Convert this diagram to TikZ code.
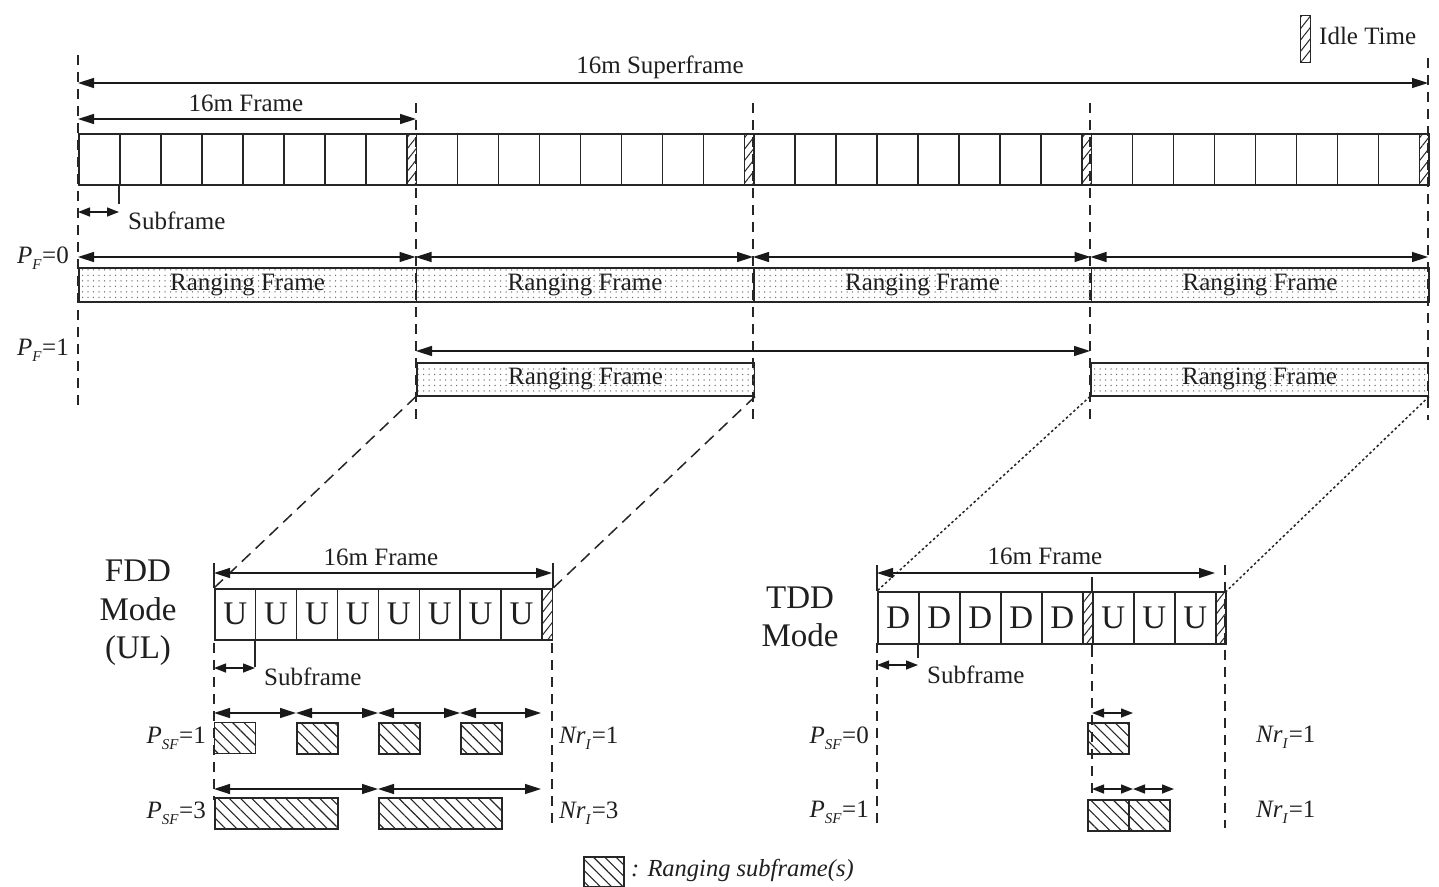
\documentclass[tikz,border=0pt]{standalone}
\usepackage{fontspec}
\setmainfont{Liberation Serif}
\usetikzlibrary{patterns.meta,arrows.meta}
\newcommand\psub[3]{\textit{#1}\raisebox{-0.5ex}{\fontsize{15}{15}\selectfont\textit{#2}}\kern0.5pt=#3}
\tikzset{
  ln/.style={draw=black!85, line width=1.5pt},
  dsh/.style={draw=black!85, line width=1.5pt, dash pattern=on 10pt off 7pt},
  ldash/.style={draw=black!85, line width=1.5pt, dash pattern=on 12pt off 7pt},
  ldot/.style={draw=black!85, line width=1.5pt, dash pattern=on 2.5pt off 2.5pt},
  dim/.style={draw=black!90, line width=1.4pt, {Triangle[length=16pt,width=10pt]}-{Triangle[length=16pt,width=10pt]}},
  dims/.style={draw=black!90, line width=1.4pt, {Triangle[length=12pt,width=9pt]}-{Triangle[length=12pt,width=9pt]}},
  cell/.style={draw=black!85, line width=1.5pt, minimum width=41pt, minimum height=51pt, inner sep=0pt, anchor=north west},
  big/.style={font=\fontsize{33}{33}\selectfont},
  idle/.style={cell, minimum width=9.5pt, pattern={Lines[angle=52,distance=7pt,line width=1pt]}, pattern color=black!85},
  rframe/.style={draw=black!85, line width=1.5pt, minimum width=337.5pt, minimum height=34pt, inner sep=0pt, anchor=north west, pattern={Dots[distance=5.5pt,radius=0.75pt]}, pattern color=black!55},
  rsub/.style={draw=black!85, line width=1.5pt, minimum width=41pt, minimum height=31pt, inner sep=0pt, anchor=north west, pattern={Lines[angle=-45,distance=8pt,line width=1.1pt]}, pattern color=black!85},
  lbl/.style={inner sep=1pt},
}
\begin{document}
\begin{tikzpicture}[x=1pt,y=-1pt, every node/.style={text=black!88}, font=\fontsize{25}{29}\selectfont]
\useasboundingbox (0,0) rectangle (1439,886);

% ---------- legend: idle time
\node[idle, minimum height=47pt, minimum width=10pt] (legidle) at (1300,15) {};
\node[lbl, anchor=west] (legidlet) at (1318,36) {Idle Time};

% ---------- dashed frame boundaries (top)
\coordinate (b0t) at (78,55);    \coordinate (b0b) at (78,412);
\coordinate (b1t) at (416,103);  \coordinate (b1b) at (416,420);
\coordinate (b2t) at (753,103);  \coordinate (b2b) at (753,420);
\coordinate (b3t) at (1090,103); \coordinate (b3b) at (1090,420);
\coordinate (b4t) at (1428,58);  \coordinate (b4b) at (1428,420);
\foreach \j in {0,...,4} \draw[dsh] (b\j t) -- (b\j b);

% ---------- superframe row
\foreach \k in {0,...,3}{
  \foreach \i in {0,...,7}{
    \node[cell] (t\k\i) at ({78+\k*337.5+\i*41},133) {};
  }
  \node[idle] (ti\k) at ({78+\k*337.5+328},133) {};
}

\coordinate (sfL) at (78,83); \coordinate (sfR) at (1428,83);
\draw[dim] (sfL) -- (sfR);
\node[lbl] (tsuper) at (660,67) {16m Superframe};

\coordinate (frL) at (78,119); \coordinate (frR) at (416,119);
\draw[dim] (frL) -- (frR);
\node[lbl] (tframe) at (246,103) {16m Frame};

\draw[ln] (t01.south west) -- ++(0,18) coordinate (subtick);
\coordinate (saL) at (78,212); \coordinate (saR) at (119,212);
\draw[dims] (saL) -- (saR);
\node[lbl, anchor=west] (tsub) at (127,221) {Subframe};

% ---------- P_F = 0
\node[lbl, anchor=east] (pf0) at (70,258) {\psub{P}{F}{0}};
\foreach \k in {0,...,4} \coordinate (r0\k) at ({78+\k*337.5},257);
\foreach \k [evaluate=\k as \n using int(\k+1)] in {0,...,3} \draw[dim] (r0\k) -- (r0\n);
\foreach \k in {0,...,3} \node[rframe] (rf\k) at ({78+\k*337.5},267) {Ranging Frame};

% ---------- P_F = 1
\node[lbl, anchor=east] (pf1) at (70,350) {\psub{P}{F}{1}};
\coordinate (r1a) at (416,351); \coordinate (r1b) at (1090,351);
\draw[dim] (r1a) -- (r1b);
\node[rframe, minimum height=33pt] (rg1) at (416,362) {Ranging Frame};
\node[rframe, minimum height=33pt] (rg3) at (1090,362) {Ranging Frame};

% ---------- FDD frame
\node[align=center, font=\fontsize{33}{38.5}\selectfont] (fddm) at (138,613) {FDD\\Mode\\(UL)};
\coordinate (fd0t) at (214,643); \coordinate (fd0b) at (214,800);
\coordinate (fd1t) at (552,643); \coordinate (fd1b) at (552,828);
\draw[dsh] (fd0t) -- (fd0b);
\draw[dsh] (fd1t) -- (fd1b);
\foreach \i in {0,...,7} \node[cell, big, minimum width=40.9pt] (fu\i) at ({214+\i*40.9},588) {U};
\node[idle, minimum width=10.5pt] (fidle) at (541.2,588) {};

\draw[ldash] (rg1.south west) -- (fu0.north west);
\draw[ldash] (rg1.south east) -- (fidle.north east);

\coordinate (faL) at (214,573); \coordinate (faR) at (552,573);
\draw[ln] (fu0.north west) -- ++(0,-25);
\draw[ln] (fidle.north east) -- ++(0,-25);
\draw[dim] (faL) -- (faR);
\node[lbl] (ffr) at (381,557) {16m Frame};

\draw[ln] (fu1.south west) -- ++(0,26);
\coordinate (fsL) at (214,668); \coordinate (fsR) at (255,668);
\draw[dims] (fsL) -- (fsR);
\node[lbl, anchor=west] (fsub) at (263,677) {Subframe};

% P_SF rows FDD
\node[lbl, anchor=east] (fp1) at (207,738) {\psub{P}{SF}{1}};
\node[lbl, anchor=east] (fp3) at (207,813) {\psub{P}{SF}{3}};
\node[lbl, anchor=west] (fn1) at (558,738) {\psub{Nr}{I}{1}};
\node[lbl, anchor=west] (fn3) at (558,813) {\psub{Nr}{I}{3}};
\foreach \i/\x in {0/214,1/296,2/378,3/460} \node[rsub] (fr1\i) at (\x,722) {};
\foreach \i/\x in {0/214,1/296,2/378,3/460,4/541} \coordinate (fa1\i) at (\x,713);
\foreach \i/\n in {0/1,1/2,2/3,3/4} \draw[dim] (fa1\i) -- (fa1\n);
\node[rsub, minimum width=123pt] (fr30) at (214,797) {};
\node[rsub, minimum width=123pt] (fr31) at (378,797) {};
\coordinate (fa30) at (214,789); \coordinate (fa31) at (378,789); \coordinate (fa32) at (541,789);
\draw[dim] (fa30) -- (fa31);
\draw[dim] (fa31) -- (fa32);

% ---------- TDD frame
\node[align=center, font=\fontsize{33}{38.5}\selectfont] (tddm) at (800,617) {TDD\\Mode};
\coordinate (td0t) at (877,643); \coordinate (td0b) at (877,828);
\coordinate (tdUt) at (1092,647); \coordinate (tdUb) at (1092,798);
\coordinate (tdRt) at (1225,565); \coordinate (tdRb) at (1225,828);
\draw[dsh] (td0t) -- (td0b);
\draw[dsh] (tdUt) -- (tdUb);
\draw[dsh] (tdRt) -- (tdRb);
\foreach \i in {0,...,4} \node[cell, big, minimum height=52pt] (td\i) at ({877+\i*41},591) {D};
\node[idle, minimum width=10pt, minimum height=52pt] (tidle1) at (1082,591) {};
\foreach \i in {0,...,2} \node[cell, big, minimum height=52pt] (tu\i) at ({1092+\i*41},591) {U};
\node[idle, minimum width=10pt, minimum height=52pt] (tidle2) at (1215,591) {};
\draw[ln] (tu0.north west) -- ++(0,-14);
\draw[ln] (tu0.south west) -- ++(0,4);

\draw[ldot] (rg3.south west) -- (td0.north west);
\draw[ldot] (rg3.south east) -- (tidle2.north east);

\draw[ln] (td0.north west) -- ++(0,-26);
\coordinate (taL) at (877,573); \coordinate (taR) at (1215,573);
\draw[dim] (taL) -- (taR);
\node[lbl] (tfr) at (1045,556) {16m Frame};

\draw[ln] (td1.south west) -- ++(0,13);
\coordinate (tsL) at (877,665); \coordinate (tsR) at (918,665);
\draw[dims] (tsL) -- (tsR);
\node[lbl, anchor=west] (tsubt) at (926,675) {Subframe};

% P_SF rows TDD
\node[lbl, anchor=east] (tp0) at (870,738) {\psub{P}{SF}{0}};
\node[lbl, anchor=east] (tp1) at (870,812) {\psub{P}{SF}{1}};
\node[lbl, anchor=west] (tn0) at (1255,737) {\psub{Nr}{I}{1}};
\node[lbl, anchor=west] (tn1) at (1255,812) {\psub{Nr}{I}{1}};
\node[rsub] (tr00) at (1087,722) {};
\coordinate (ta00) at (1092,713); \coordinate (ta01) at (1133,713);
\draw[dims] (ta00) -- (ta01);
\node[rsub] (tr10) at (1087,799) {};
\node[rsub] (tr11) at (1128,799) {};
\coordinate (ta10) at (1092,789); \coordinate (ta11) at (1133,789); \coordinate (ta12) at (1174,789);
\draw[dims] (ta10) -- (ta11);
\draw[dims] (ta11) -- (ta12);

% ---------- legend: ranging subframe
\node[rsub, minimum width=40pt, minimum height=30pt] (legr) at (583,856) {};
\node[lbl, anchor=west, font=\fontsize{24.5}{28}\selectfont\itshape] (legrt) at (630,870) {: Ranging subframe(s)};
\end{tikzpicture}
\end{document}
